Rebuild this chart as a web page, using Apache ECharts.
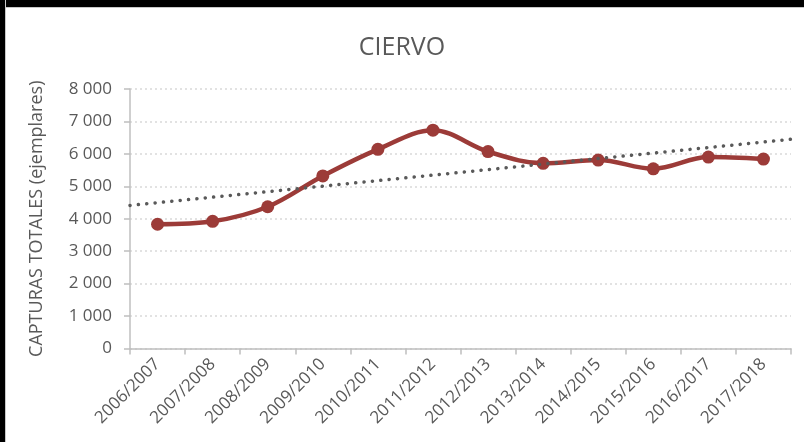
<!DOCTYPE html>
<html>
<head>
<meta charset="utf-8">
<script src="https://cdn.jsdelivr.net/npm/echarts@6/dist/echarts.min.js"></script>
<style>
  html, body { margin: 0; padding: 0; background: #fff; }
  #chart { position: absolute; left: 0; top: 0; width: 804px; height: 442px; }
  .edge { position: absolute; }
  #topBar { left: 0; top: 0; width: 804px; height: 7px; background: #000; border-bottom: 1px solid #C8C8C8; }
  #leftBar { left: 0; top: 0; width: 5px; height: 442px; background: #000; border-right: 1px solid #C8C8C8; }
</style>
</head>
<body>
<div id="chart"></div>
<div id="topBar" class="edge"></div>
<div id="leftBar" class="edge"></div>
<script>
const seasons = ["2006/2007", "2007/2008", "2008/2009", "2009/2010", "2010/2011", "2011/2012",
  "2012/2013", "2013/2014", "2014/2015", "2015/2016", "2016/2017", "2017/2018"];
const captures = [3830, 3920, 4370, 5320, 6140, 6730, 6070, 5710, 5810, 5540, 5900, 5840];
// linear trendline, value at the left and right edge of the plot
const trendEnds = [4410, 6450];
const yTicks = [0, 1000, 2000, 3000, 4000, 5000, 6000, 7000, 8000];

const font = "'Open Sans', 'Noto Sans', sans-serif";
const grey = "#595959";

const chart = echarts.init(document.getElementById("chart"));

const option = {
  animation: false,
  backgroundColor: "#fff",
  title: {
    text: "CIERVO",
    left: "center",
    top: 30,
    textStyle: { fontFamily: font, fontSize: 25, fontWeight: "normal", color: grey },
  },
  grid: { left: 130, right: 13, top: 89, bottom: 93.5 },
  xAxis: [
    {
      type: "category",
      data: seasons,
      boundaryGap: true,
      axisLine: { lineStyle: { color: "#BFBFBF", width: 1.5 } },
      axisTick: { show: true, length: 6, alignWithLabel: false, lineStyle: { color: "#BFBFBF", width: 1.5 } },
      axisLabel: { interval: 0, rotate: 45, margin: 13, fontFamily: font, fontSize: 17, color: grey },
      splitLine: { show: false },
    },
    {
      type: "value",
      min: -0.5,
      max: 11.5,
      show: false,
    },
  ],
  yAxis: {
    type: "value",
    min: yTicks[0],
    max: yTicks[yTicks.length - 1],
    interval: 1000,
    name: "CAPTURAS TOTALES (ejemplares)",
    nameLocation: "middle",
    nameRotate: 90,
    nameGap: 84,
    nameTextStyle: { fontFamily: font, fontSize: 18, color: grey },
    axisLine: { show: true, onZero: false, lineStyle: { color: "#BFBFBF", width: 1.5 } },
    axisTick: { show: true, length: 6, lineStyle: { color: "#BFBFBF", width: 1.5 } },
    axisLabel: {
      margin: 18,
      fontFamily: font,
      fontSize: 17,
      color: grey,
      formatter: (v) => String(v).replace(/\B(?=(\d{3})+(?!\d))/g, " "),
    },
    splitLine: { show: true, lineStyle: { color: "#D9D9D9", width: 1.5, type: [2, 3] } },
  },
  series: [
    {
      name: "Capturas",
      type: "line",
      data: captures,
      smooth: 0.35,
      symbol: "circle",
      symbolSize: 13,
      itemStyle: { color: "#9C3B38" },
      lineStyle: { color: "#9C3B38", width: 4.5 },
      z: 3,
    },
    {
      name: "Tendencia",
      type: "line",
      xAxisIndex: 1,
      data: [[-0.5, trendEnds[0]], [11.5, trendEnds[1]]],
      symbol: "none",
      lineStyle: { color: grey, width: 3.5, type: [0.1, 8.3], cap: "round" },
      z: 4,
    },
  ],
};

chart.setOption(option);
</script>
</body>
</html>
